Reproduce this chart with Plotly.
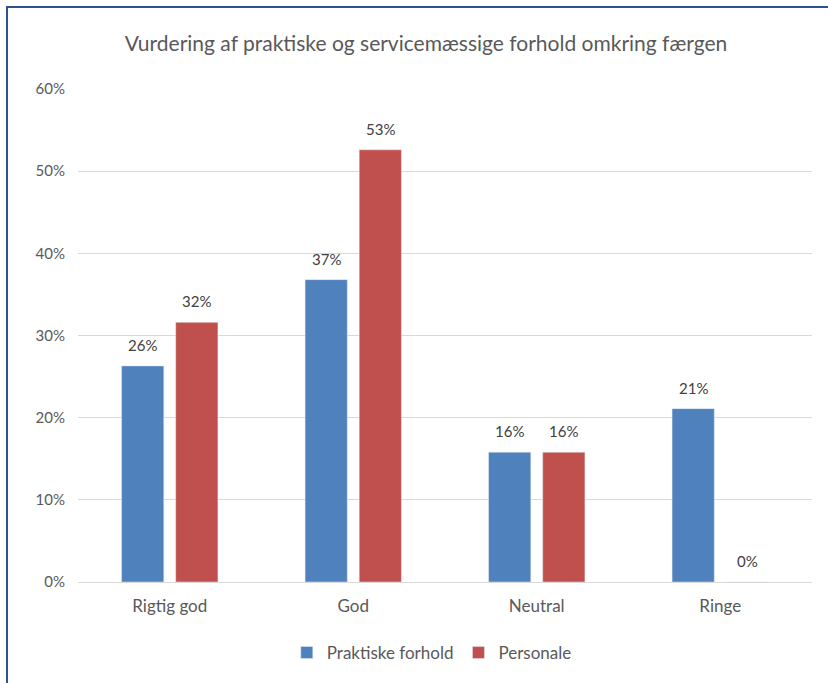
import plotly.graph_objects as go

categories = ["Rigtig god", "God", "Neutral", "Ringe"]
praktiske = [0.263, 0.368, 0.158, 0.211]
personale = [0.316, 0.526, 0.158, 0.0]
series_names = ["Praktiske forhold", "Personale"]

BLUE = "#4F81BD"
RED = "#C0504D"
TEXT = "#595959"
FONT = "Lato"

fig = go.Figure()
fig.add_trace(go.Bar(x=categories, y=praktiske, name=series_names[0], marker=dict(color=BLUE)))
fig.add_trace(go.Bar(x=categories, y=personale, name=series_names[1], marker=dict(color=RED)))

# value labels above bars
for vals, shift in [(praktiske, -27), (personale, 27)]:
    for cat, v in zip(categories, vals):
        fig.add_annotation(
            x=cat, y=v, text=f"{v:.0%}", showarrow=False,
            xshift=shift, yshift=21, yanchor="middle",
            font=dict(family=FONT, size=15, color="#404040"),
        )

# outer frame: only the left and top edges fall inside the picture
fig.add_shape(
    type="path", xref="paper", yref="paper",
    path="M -0.0967,-0.4 L -0.0967,1.1663 L 1.2,1.1663",
    line=dict(color="#2F528F", width=2), layer="below",
)

fig.update_layout(
    width=828, height=683,
    margin=dict(l=78, r=16, t=89, b=101),
    paper_bgcolor="white", plot_bgcolor="white",
    barmode="group", bargap=0.41, bargroupgap=0.22,
    title=dict(
        text="Vurdering af praktiske og servicemæssige forhold omkring færgen",
        x=0.5145, xanchor="center", y=1 - 44 / 683, yanchor="middle",
        font=dict(family=FONT, size=21, color=TEXT),
    ),
    font=dict(family=FONT, size=17, color=TEXT),
    legend=dict(
        orientation="h", x=0.482, xanchor="center", y=-0.144, yanchor="middle",
        font=dict(family=FONT, size=17, color=TEXT),
        itemwidth=30, traceorder="normal",
    ),
    yaxis=dict(
        range=[0, 0.6], dtick=0.1, tickformat=".0%",
        showgrid=True, gridcolor="#D9D9D9", gridwidth=1,
        zeroline=True, zerolinecolor="#D9D9D9", zerolinewidth=1,
        showline=False, ticks="", ticklabelstandoff=12,
        tickfont=dict(family=FONT, size=15, color=TEXT),
    ),
    xaxis=dict(
        showline=False, ticks="", ticklabelstandoff=12,
        tickfont=dict(family=FONT, size=17, color=TEXT),
    ),
)

# the page body has a default 8px margin; drop it so the figure sits at 0,0
fig.write_html(
    "out.html",
    config={"displayModeBar": False},
    post_script="document.body.style.margin='0';",
)
